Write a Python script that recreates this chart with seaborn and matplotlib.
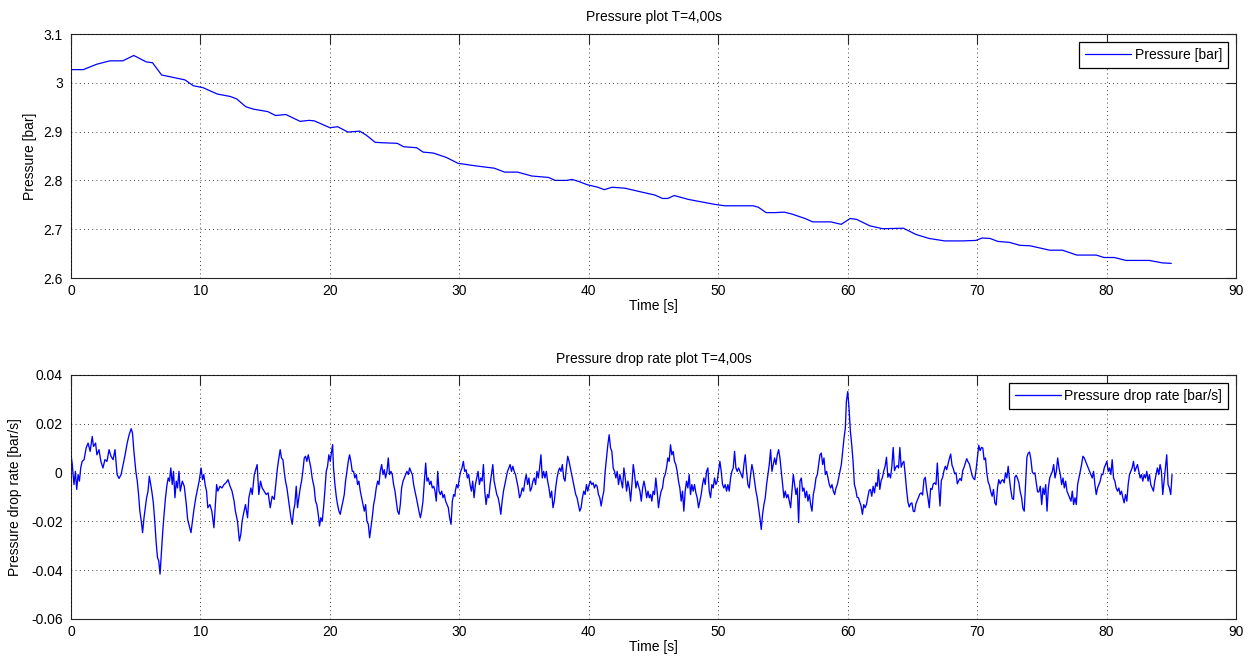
import numpy as np
import matplotlib
matplotlib.use("Agg")
import matplotlib.pyplot as plt
import seaborn as sns
from matplotlib.ticker import FuncFormatter, MultipleLocator

# ---------------- Pressure trace [bar] ----------------
pressure_time = [0.00, 0.95, 1.98, 3.0, 4.0, 4.85, 5.8, 6.3, 7.0, 7.9, 8.8, 9.45, 10.2, 11.3,
                 12.3, 12.8, 13.5, 14.1, 15.2, 15.8, 16.6, 17.7, 18.4, 18.8, 20.0, 20.6, 21.4,
                 22.3, 22.8, 23.5, 24.2, 25.2, 25.7, 26.7, 27.2, 28.0, 29.0, 29.9, 31.2, 32.7,
                 33.5, 34.5, 35.6, 36.9, 37.4, 38.3, 38.7, 39.2, 39.9, 40.7, 41.2, 41.8, 42.8,
                 44.1, 45.1, 45.7, 46.1, 46.6, 47.7, 48.7, 49.7, 50.5, 52.7, 53.1, 53.7, 54.4,
                 55.1, 55.7, 56.7, 57.3, 58.7, 59.5, 60.2, 60.7, 61.7, 62.7, 64.3, 65.3, 66.3,
                 67.5, 68.9, 69.9, 70.4, 71.0, 71.6, 72.5, 73.3, 74.1, 75.6, 76.6, 77.7, 79.2,
                 79.8, 80.6, 81.5, 83.3, 84.3, 85.0]
pressure_bar = [3.027, 3.027, 3.038, 3.045, 3.045, 3.056, 3.043, 3.041, 3.016, 3.011, 3.006,
                2.994, 2.990, 2.977, 2.972, 2.967, 2.951, 2.946, 2.941, 2.933, 2.935, 2.921,
                2.923, 2.922, 2.908, 2.910, 2.899, 2.901, 2.893, 2.878, 2.877, 2.876, 2.869,
                2.867, 2.858, 2.856, 2.847, 2.835, 2.830, 2.825, 2.817, 2.817, 2.809, 2.806,
                2.800, 2.800, 2.802, 2.798, 2.791, 2.786, 2.781, 2.786, 2.784, 2.776, 2.770,
                2.763, 2.763, 2.769, 2.761, 2.756, 2.751, 2.748, 2.748, 2.745, 2.734, 2.734,
                2.735, 2.731, 2.722, 2.715, 2.715, 2.710, 2.722, 2.720, 2.707, 2.701, 2.702,
                2.689, 2.681, 2.676, 2.676, 2.677, 2.682, 2.681, 2.675, 2.673, 2.667, 2.666,
                2.657, 2.657, 2.647, 2.647, 2.642, 2.642, 2.636, 2.636, 2.631, 2.630]

# ---------------- Pressure drop rate [mbar/s] ----------------
# first 29.7 s, irregularly spaced samples
rate_time_a = [0.00, 0.10, 0.23, 0.34, 0.44, 0.55, 0.65, 0.75, 0.86, 1.01,
               1.17, 1.32, 1.48, 1.64, 1.74, 1.90, 2.00, 2.16, 2.31, 2.47,
               2.62, 2.78, 2.94, 3.09, 3.25, 3.40, 3.56, 3.71, 3.87, 4.03,
               4.18, 4.34, 4.49, 4.65, 4.75, 4.86, 5.01, 5.12, 5.22, 5.32,
               5.43, 5.53, 5.64, 5.74, 5.84, 5.95, 6.05, 6.16, 6.26, 6.36,
               6.47, 6.57, 6.68, 6.78, 6.88, 6.99, 7.09, 7.19, 7.30, 7.40,
               7.51, 7.61, 7.71, 7.82, 7.92, 8.03, 8.13, 8.23, 8.34, 8.44,
               8.60, 8.75, 8.91, 9.01, 9.17, 9.27, 9.38, 9.48, 9.64, 9.74,
               9.90, 10.05, 10.16, 10.26, 10.36, 10.47, 10.57, 10.73, 10.88, 11.04,
               11.14, 11.25, 11.35, 11.51, 11.66, 11.82, 11.97, 12.13, 12.29, 12.44,
               12.60, 12.70, 12.86, 13.01, 13.12, 13.22, 13.32, 13.48, 13.64, 13.74,
               13.90, 14.00, 14.16, 14.31,
               14.38, 14.51, 14.64, 14.77, 14.92, 15.08, 15.23, 15.39, 15.54, 15.70,
               15.85, 15.95, 16.06, 16.16, 16.26, 16.37, 16.47, 16.57, 16.68, 16.78,
               16.88, 16.99, 17.09, 17.19, 17.29, 17.40, 17.50, 17.60, 17.71, 17.81,
               17.91, 18.02, 18.12, 18.22, 18.33, 18.43, 18.53, 18.63, 18.79, 18.89,
               18.99, 19.10, 19.20, 19.30, 19.41, 19.51, 19.61, 19.72, 19.82, 19.92,
               20.03, 20.13, 20.21, 20.28, 20.39, 20.49, 20.59, 20.70, 20.80, 20.90,
               21.01, 21.11, 21.21, 21.31, 21.42, 21.52, 21.62, 21.73, 21.83, 21.93,
               22.04, 22.14, 22.24, 22.35, 22.45, 22.55, 22.66, 22.76, 22.86, 22.97,
               23.07, 23.17, 23.27, 23.38, 23.48, 23.58, 23.69, 23.79, 23.89, 24.00,
               24.10, 24.20, 24.30, 24.41, 24.51, 24.61, 24.72, 24.82, 24.92, 25.03,
               25.13, 25.23, 25.34, 25.44, 25.54, 25.65, 25.75, 25.85, 25.95, 26.06,
               26.16, 26.26, 26.37, 26.47, 26.57, 26.68, 26.78, 26.88, 26.99, 27.09,
               27.19, 27.30, 27.40, 27.50, 27.60, 27.71, 27.81, 27.91, 28.02, 28.12,
               28.22, 28.33, 28.43, 28.53, 28.64, 28.74, 28.84, 28.94, 29.05, 29.15,
               29.25, 29.36, 29.46, 29.56, 29.66]
rate_mbar_a = [7.3, 3.3, -4.9, 0.5, -6.9, -0.8, -3.5, 1.9, 4.6, 5.3,
               10.1, 12.1, 8.7, 14.8, 10.7, 12.1, 7.3, 9.4, 4.6, 1.9,
               5.3, 4.6, 9.4, 6.7, 5.3, 9.4, -0.8, -2.4, -0.8, 3.3,
               7.3, 12.1, 15.5, 18.0, 16.2, 8.7, 0.5, -3.5, -9.0, -15.8,
               -19.9, -24.6, -18.5, -14.4, -10.3, -7.6, -1.5, -4.9, -8.3, -12.4,
               -19.9, -28.0, -34.8, -36.2, -41.6, -32.1, -23.9, -17.1, -10.3, -5.6,
               -2.2, -3.5, 1.9, -4.9, 0.5, -10.3, -3.5, -6.3, 0.5, -7.6,
               -3.5, -5.6, -13.1, -19.2, -22.6, -24.6, -19.9, -15.8, -10.3, -7.6,
               -3.5, 1.9, -2.9, -0.8, -4.9, -7.6, -14.4, -13.1, -15.8, -22.6,
               -14.4, -4.9, -7.6, -5.6, -6.3, -4.9, -4.2, -2.9, -5.6, -7.6,
               -11.7, -15.8, -19.9, -28.0, -25.3, -19.9, -17.1, -13.1, -18.5, -10.3,
               -6.3, -9.0, -0.8, 1.9,
               3.3, -9.0, -3.5, -6.3, -7.6, -9.0, -8.3, -14.4, -9.7, -11.0,
               -3.5, 1.9, 6.0, 9.4, 6.0, 5.3, 0.5, -3.5, -6.3, -10.3,
               -14.4, -18.5, -21.2, -15.8, -13.1, -5.6, -14.4, -10.3, -6.3, -3.5,
               0.5, 6.0, 6.7, 4.6, 7.3, 4.6, 1.9, -2.2, -6.3, -11.7,
               -13.1, -17.1, -21.9, -18.5, -19.9, -14.4, -7.6, 0.5, 2.6, 7.3,
               4.6, 8.7, 11.4, 1.9, -4.9, -9.7, -13.1, -15.8, -17.1, -14.4,
               -11.7, -9.0, -3.5, 0.5, 4.6, 7.3, 4.6, 0.5, 0.5, -2.2,
               -0.8, -4.9, -3.5, -7.6, -10.3, -13.1, -15.8, -13.1, -19.9, -21.2,
               -26.7, -22.6, -18.5, -13.1, -10.3, -6.3, -3.5, -4.9, 0.5, 3.3,
               -0.8, 1.2, -2.2, 0.5, 6.0, -0.8, 0.5, -0.8, -4.9, -7.6,
               -11.7, -15.8, -17.1, -13.1, -6.3, -3.5, -2.2, -0.8, 0.5, -0.8,
               1.9, 0.5, -0.8, -4.9, -7.6, -10.3, -13.1, -15.8, -18.5, -15.8,
               -11.7, -3.5, 3.9, -3.5, -2.2, -4.9, -3.5, -6.3, -5.6, -7.6,
               -11.7, 0.5, -7.6, -9.0, -7.6, -10.3, -9.0, -11.7, -13.1, -14.4,
               -18.5, -21.2, -11.7, -9.0, -9.7]

# remaining record, evenly sampled blocks: (start s, end s, values)
rate_span_b = (29.69, 44.78)
rate_mbar_b = [-7.6, -4.9, -6.3, -2.2, 0.5, 1.9, 4.6, 0.5, 1.2, -2.2,
               -0.8, -4.9, -7.6, -3.5, -10.3, -4.9, -2.2, 0.5, -4.9, -2.2,
               -3.5, 3.3, -7.6, -13.1, -9.0, -10.3, -4.9, -0.8, 3.3, -3.5,
               -6.3, -9.0, -10.3, -13.1, -17.1, -11.7, -7.6, -4.9, -2.2, 0.5,
               1.9, 3.3, 0.5, 2.6, 0.5, -0.8, -3.5, -6.3, -10.3, -9.0,
               -6.3, -7.6, -3.5, -0.8, -4.9, -2.2, -7.6, -6.3, -3.5, -2.2,
               -4.9, 0.5, -2.2, 1.9, 7.3, -2.2, 0.5, -2.2, 0.5, -3.5,
               -6.3, -10.3, -7.6, -14.4, -11.7, -6.3, -2.2, 0.5, 1.9, 0.5,
               3.3, -2.2, -3.5, 1.9, 6.7, 4.6, 1.9, -0.8, -3.5, -6.3,
               -9.0, -10.3, -13.1, -15.8, -14.4, -10.3, -7.6, -9.0, -4.9, -7.6,
               -4.9, -3.5, -4.9, -4.2, -6.3, -4.9, -5.6, -9.0, -10.3, -13.7,
               -10.3, -7.6, 0.5, 6.0, 11.4, 15.5, 10.1, 8.7, 1.9, 0.5,
               -2.2, 0.5, -4.9, -0.8, -3.5, -6.3, 1.9, -2.2, -7.6, -3.5,
               -6.3, -11.7, -4.9, 3.3, -0.8, -6.3, -3.5, -5.6, -7.6, -11.7,
               -6.3, -3.5, -6.3, -10.3, -7.6, -10.3, -9.0]

rate_span_c = (44.87, 59.82)
rate_mbar_c = [-11.7, -7.6, -9.0, -2.2, -7.6, -14.4, -10.3, -7.6, -6.3, -2.2,
               -0.8, 1.9, 6.0, 4.6, 11.4, 7.3, 8.7, 4.6, 3.3, 0.5,
               -3.5, -6.3, -11.7, -7.6, -15.8, -7.6, -3.5, -6.3, -0.8, -9.0,
               -4.9, -7.6, -4.9, -8.3, -10.3, -14.4, -11.7, -9.0, -4.9, -2.2,
               -4.9, 0.5, 1.9, -7.6, -10.3, -4.9, -6.3, -2.2, -4.9, -3.5,
               0.5, 4.6, 0.5, -4.9, -6.3, -4.9, -7.6, -4.9, -7.6, -2.2,
               0.5, 1.9, 8.7, 1.9, 0.5, 1.9, 0.5, -0.8, -2.2, 3.3,
               7.3, 0.5, -4.9, -6.3, -0.8, 3.3, 0.5, -3.5, -7.6, -10.3,
               -14.4, -18.5, -23.3, -17.1, -13.1, -10.3, -4.9, -0.8, 3.3, 9.4,
               0.5, 3.3, 6.0, 3.3, 7.3, 9.4, 6.0, 0.5, -4.9, -10.3,
               -7.6, -10.3, -9.0, -11.7, -14.4, -7.6, -0.8, -4.9, -9.0, -6.3,
               -20.5, -3.5, -2.2, -7.6, -6.3, -10.3, -7.6, -11.7, -9.0, -13.1,
               -15.8, -9.0, -6.3, -2.2, -0.8, 3.3, 7.3, 8.0, 3.3, 6.0,
               -0.8, 0.5, -2.2, -4.9, -6.3, -4.9, -7.6, -9.0, -6.3, -4.9,
               -2.2, 0.5, 3.3, 8.7, 14.1, 18.2]

rate_span_d = (59.90, 74.88)
rate_mbar_d = [29.1, 33.2, 26.4, 16.9, 11.4, 4.6, -4.9, -6.9, -10.1, -10.3,
               -12.0, -13.7, -17.1, -13.1, -14.4, -13.1, -10.3, -7.3, -6.9, -9.7,
               -5.6, -8.3, -4.2, -5.6, 1.2, -6.9, -3.3, -1.9, 0.8, 2.6,
               6.3, -1.9, -0.5, -2.2, 2.6, 10.3, 0.8, 2.2, 2.9, 1.9,
               10.3, 2.2, 3.9, 4.6, -0.8, -6.9, -12.0, -14.1, -12.8, -12.4,
               -15.8, -16.0, -12.8, -11.4, -10.1, -8.7, -8.3, -9.2, -2.9, -1.9,
               -6.9, -10.3, -14.4, -6.5, -6.9, -4.6, -4.2, -4.9, 3.9, -5.6,
               -13.7, -3.3, -1.9, 0.8, 2.6, 1.2, 3.5, 5.7, 7.6, 3.0,
               1.6, -0.5, -0.1, -4.6, -3.3, -2.4, -3.3, 0.8, 2.2, 3.9,
               5.7, 4.4, 3.5, 1.2, -1.1, -2.4, -2.9, 1.2, 6.3, 11.2,
               9.0, 10.3, 10.1, 5.3, 6.0, -0.1, -3.8, -5.2, -7.9, -9.7,
               -6.9, -12.4, -13.3, -6.3, -2.9, -4.6, -3.3, -2.9, -4.2, -0.1,
               -2.2, 2.6, -2.9, -7.3, -10.6, -11.0, -1.9, -1.1, -2.4, -4.2,
               -7.9, -10.1, -14.7, -15.8, -4.9, 6.3, 8.0, 8.4, 5.3, 0.3,
               -0.5, -0.1, -4.2, -7.9, -7.9, -5.6]

rate_span_e = (74.99, 85.06)
rate_mbar_e = [-13.1, -6.3, -9.0, -4.9, -15.8, -6.3, -2.2, -0.8, 0.5, 3.3,
               -2.2, 0.5, 6.0, 1.9, -0.8, -4.9, -2.2, -6.3, -3.5, -7.6,
               -9.0, -10.3, -11.7, -7.6, -13.1, -10.3, -13.1, -4.9, -2.2, 0.5,
               3.3, 6.7, 6.0, 4.6, 3.3, 1.9, 0.5, -0.8, -2.2, 0.5,
               -4.9, -9.0, -6.3, -4.9, -3.5, -0.8, -0.8, 1.9, 3.3, 4.6,
               0.5, 1.9, -0.8, 5.3, -2.2, -3.5, -6.3, -7.6, -6.3, -9.0,
               -7.6, -10.3, -12.4, -9.0, -11.7, -4.9, -0.8, 0.5, 1.9, 4.6,
               0.5, 1.9, 3.3, 0.5, -2.2, -0.8, -3.5, -0.8, -2.2, 0.5,
               -3.5, -0.8, -4.9, -6.3, -7.6, -3.5, -0.8, 1.9, -0.8, 3.3,
               0.5, -9.0, -3.5, 1.9, 7.3, -4.9, -6.3, -9.0, -0.8]

# ---------------- assemble rate series ----------------
t_parts = [np.asarray(rate_time_a)]
v_parts = [np.asarray(rate_mbar_a)]
for span, vals in [(rate_span_b, rate_mbar_b), (rate_span_c, rate_mbar_c),
                   (rate_span_d, rate_mbar_d), (rate_span_e, rate_mbar_e)]:
    t_parts.append(np.linspace(span[0], span[1], len(vals)))
    v_parts.append(np.asarray(vals))
rate_time = np.concatenate(t_parts)
rate_bar_s = np.concatenate(v_parts) * 1e-3

# ---------------- style ----------------
sns.set_theme(style="white")
plt.rcParams.update({
    "font.family": ["Liberation Sans", "DejaVu Sans"],
    "font.size": 10,
    "axes.unicode_minus": False,
    "axes.edgecolor": "#262626",
    "axes.linewidth": 0.8,
    "text.color": "black",
    "axes.labelcolor": "black",
    "xtick.color": "#262626",
    "ytick.color": "#262626",
    "xtick.labelcolor": "black",
    "ytick.labelcolor": "black",
})

W, H = 1252, 662
fig = plt.figure(figsize=(W / 100, H / 100), dpi=100, facecolor="white")
ax_p = fig.add_axes([71 / W, (H - 278) / H, 1165 / W, 244 / H])
ax_r = fig.add_axes([71 / W, (H - 619) / H, 1165 / W, 244 / H])

fmt = FuncFormatter(lambda v, _: f"{v:g}")

def matlab_axes(ax, ylim, ystep, title, ylabel, ylabel_x):
    ax.set_xlim(0, 90)
    ax.set_ylim(*ylim)
    ax.xaxis.set_major_locator(MultipleLocator(10))
    ax.yaxis.set_major_locator(MultipleLocator(ystep))
    ax.xaxis.set_major_formatter(fmt)
    ax.yaxis.set_major_formatter(fmt)
    ax.tick_params(direction="in", length=7, width=0.8, top=True, right=True,
                   labelsize=10, pad=4)
    ax.tick_params(axis="y", pad=6)
    ax.grid(True, color="black", linestyle=(0, (1, 4)), linewidth=0.6)
    ax.set_axisbelow(False)
    ax.set_title(title, fontsize=10, pad=9)
    ax.set_xlabel("Time [s]", fontsize=10)
    ax.set_ylabel(ylabel, fontsize=10)
    ax.xaxis.set_label_coords(0.5, -0.085)
    ax.yaxis.set_label_coords(ylabel_x, 0.5)
    for s in ax.spines.values():
        s.set_visible(True)
    leg = ax.legend(loc="upper right", fancybox=False, framealpha=1,
                    edgecolor="black", fontsize=10, borderaxespad=0.55,
                    handlelength=3.3, handletextpad=0.25, borderpad=0.45)
    leg.get_frame().set_linewidth(0.9)

sns.lineplot(x=pressure_time, y=pressure_bar, ax=ax_p, color=(0, 0, 1),
             linewidth=0.9, label="Pressure [bar]", estimator=None, sort=False)
matlab_axes(ax_p, (2.6, 3.1), 0.1, "Pressure plot T=4,00s", "Pressure [bar]", -0.029)

sns.lineplot(x=rate_time, y=rate_bar_s, ax=ax_r, color=(0, 0, 1),
             linewidth=0.95, label="Pressure drop rate [bar/s]", estimator=None, sort=False)
matlab_axes(ax_r, (-0.06, 0.04), 0.02, "Pressure drop rate plot T=4,00s",
            "Pressure drop rate [bar/s]", -0.042)

fig.savefig("out.png", dpi=100, facecolor="white")
